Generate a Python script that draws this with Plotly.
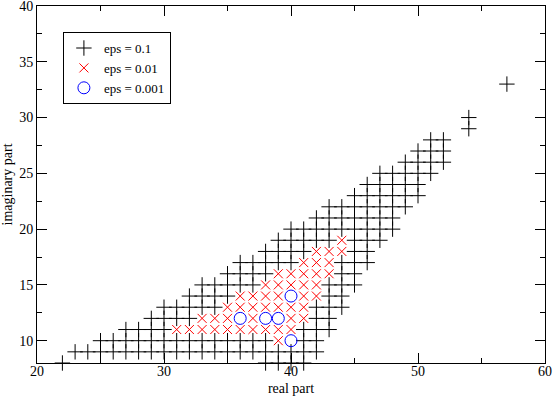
"""
eigenvalue scatter: real vs imaginary part for three eps values
"""

import plotly.graph_objects as go

###########################
# data: y -> list of x
###########################
# eps = 0.1 (black plus)
PLUS_ROWS = {
    8: [22, 38, 39, 40, 41],
    9: [23, 24, 25, 26, 27, 28, 29, 30, 31, 32, 33, 34, 35, 36, 37, 38, 39, 40, 41, 42],
    10: [25, 26, 27, 28, 29, 30, 31, 32, 33, 34, 35, 36, 37, 38, 41, 42],
    11: [27, 28, 29, 30, 41, 42, 43],
    12: [29, 30, 31, 32, 42, 43],
    13: [30, 31, 32, 33, 34, 42, 43, 44],
    14: [32, 33, 34, 35, 43, 44],
    15: [33, 34, 35, 36, 37, 43, 44, 45],
    16: [35, 36, 37, 38, 44, 45],
    17: [36, 37, 38, 39, 40, 44, 45, 46],
    18: [38, 39, 40, 41, 45, 46],
    19: [39, 40, 41, 42, 43, 45, 46, 47],
    20: [40, 41, 42, 43, 44, 45, 46, 47, 48],
    21: [42, 43, 44, 45, 46, 47, 48],
    22: [43, 44, 45, 46, 47, 48, 49],
    23: [45, 46, 47, 48, 49, 50],
    24: [46, 47, 48, 49, 50],
    25: [47, 48, 49, 50, 51],
    26: [49, 50, 51, 52],
    27: [50, 51, 52],
    28: [51, 52],
    29: [54],
    30: [54],
    33: [57],
}

# eps = 0.01 (red x)
CROSS_ROWS = {
    10: [39],
    11: [31, 32, 33, 34, 35, 36, 37, 38, 39, 40],
    12: [33, 34, 35, 37, 40, 41],
    13: [35, 36, 37, 38, 39, 40, 41],
    14: [36, 37, 38, 39, 41, 42],
    15: [38, 39, 40, 41, 42],
    16: [39, 40, 41, 42, 43],
    17: [41, 42, 43],
    18: [42, 43, 44],
    19: [44],
}

# eps = 0.001 (blue circle)
CIRCLE_X = [36, 38, 39, 40, 40]
CIRCLE_Y = [12, 12, 12, 14, 10]

X_TICKS = [20, 30, 40, 50, 60]
Y_TICKS = [10, 15, 20, 25, 30, 35, 40]

FONT = "Liberation Serif"


def flatten(rows):
    xs, ys = [], []
    for y, xlist in rows.items():
        for x in xlist:
            xs.append(x)
            ys.append(y)
    return xs, ys


fig = go.Figure()

px_, py_ = flatten(PLUS_ROWS)
cx_, cy_ = flatten(CROSS_ROWS)

fig.add_scatter(x=px_, y=py_, mode="markers", name="eps = 0.1", cliponaxis=False,
                marker=dict(symbol="cross-thin", size=11, color="black",
                            line=dict(width=1, color="black")))
fig.add_scatter(x=cx_, y=cy_, mode="markers", name="eps = 0.01", cliponaxis=False,
                marker=dict(symbol="x-thin", size=9, color="red",
                            line=dict(width=1, color="red")))
fig.add_scatter(x=CIRCLE_X, y=CIRCLE_Y, mode="markers", name="eps = 0.001", cliponaxis=False,
                marker=dict(symbol="circle-open", size=12, color="blue",
                            line=dict(width=1, color="blue")))

axis_common = dict(
    showgrid=False, zeroline=False, automargin=False,
    showline=True, linecolor="black", linewidth=1, mirror="allticks",
    ticks="inside", ticklen=10, tickcolor="black", tickwidth=1,
    ticklabeloverflow="allow",
    tickfont=dict(family=FONT, size=14, color="black"),
)

fig.update_xaxes(range=[20, 60], tickvals=X_TICKS, ticklabelstandoff=-5,
                 minor=dict(dtick=5, ticks="inside", ticklen=5, tickcolor="black"),
                 title=dict(text="real part", font=dict(family=FONT, size=14, color="black")),
                 **axis_common)
fig.update_yaxes(range=[8, 40], tickvals=Y_TICKS,
                 minor=dict(dtick=2.5, ticks="inside", ticklen=5, tickcolor="black"),
                 title=dict(text="imaginary part", font=dict(family=FONT, size=14, color="black")),
                 **axis_common)

fig.update_layout(
    width=554, height=396,
    margin=dict(l=37, r=9, t=6, b=33),
    paper_bgcolor="white", plot_bgcolor="white",
    font=dict(family=FONT, size=14, color="black"),
    legend=dict(x=0.051, y=0.927, xanchor="left", yanchor="top",
                bgcolor="white", bordercolor="black", borderwidth=1,
                font=dict(family=FONT, size=13), tracegroupgap=0, itemwidth=30),
)

# drop the default page margin so the figure sits at the window corner
fig.write_html("out.html", config={"displayModeBar": False},
               post_script="document.body.style.margin='0';")
